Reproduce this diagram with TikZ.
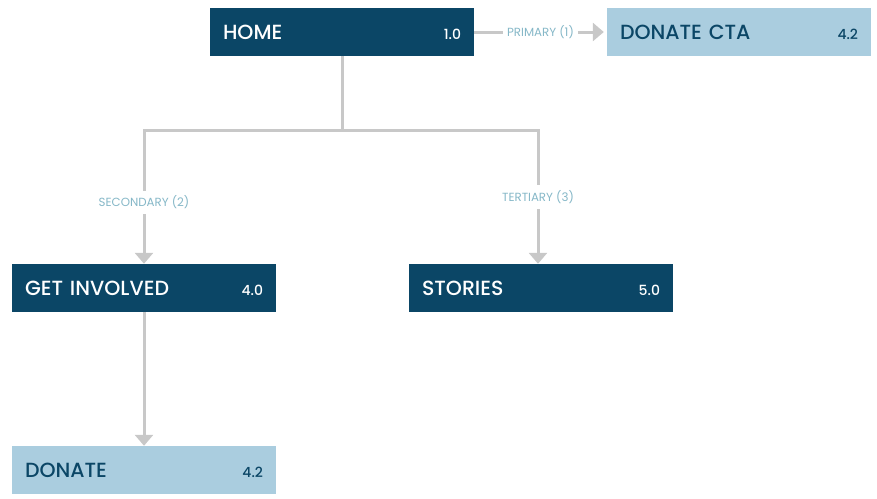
\documentclass[tikz,border=0pt]{standalone}
\usepackage{fontspec}
\setmainfont{Poppins}[BoldFont={* Medium}]
\usetikzlibrary{arrows.meta,positioning}
\definecolor{navy}{HTML}{0B4666}
\definecolor{sky}{HTML}{AACDDF}
\definecolor{wire}{HTML}{C8C8C8}
\definecolor{tagblue}{HTML}{86B8C8}
\newcommand{\numfont}{\fontsize{14}{16}\selectfont}
\begin{document}
\begin{tikzpicture}[x=1pt, y=-1pt, >={Triangle[width=18pt,length=11pt]},
	page/.style={minimum width=264pt, minimum height=48pt, text width=238pt, inner sep=0pt, align=left, font=\fontsize{20.5}{22}\selectfont\bfseries},
	darkpage/.style={page, fill=navy, text=white},
	lightpage/.style={page, fill=sky, text=navy},
	link/.style={draw=wire, line width=3pt},
	tagtext/.style={fill=white, text=tagblue, inner xsep=4pt, inner ysep=5pt, font=\fontsize{11.8}{13}\selectfont}]
	\useasboundingbox (0,0) rectangle (877,498);
	\node[darkpage] (home) at (342,32) {HOME\hfill{\numfont 1.0}};
	\node[lightpage] (cta) at (739,32) {DONATE CTA\hfill{\numfont 4.2}};
	\node[darkpage] (involved) at (144,288) {GET INVOLVED\hfill{\numfont 4.0}};
	\node[darkpage] (stories) at (541,288) {STORIES\hfill{\numfont 5.0}};
	\node[lightpage] (donate) at (144,470) {DONATE\hfill{\numfont 4.2}};
	\coordinate (split) at (342,130);
	\draw[link,->,shorten >=3pt] (home) -- node[tagtext]{PRIMARY (1)} (cta);
	\draw[link] (home) -- (split);
	\draw[link,->] (split) -| (involved) node[tagtext, pos=0.77]{SECONDARY (2)};
	\draw[link,->] (split) -| ([xshift=-3pt]stories.north) node[tagtext, pos=0.75]{TERTIARY (3)};
	\draw[link,->] (involved) -- (donate);
\end{tikzpicture}
\end{document}
